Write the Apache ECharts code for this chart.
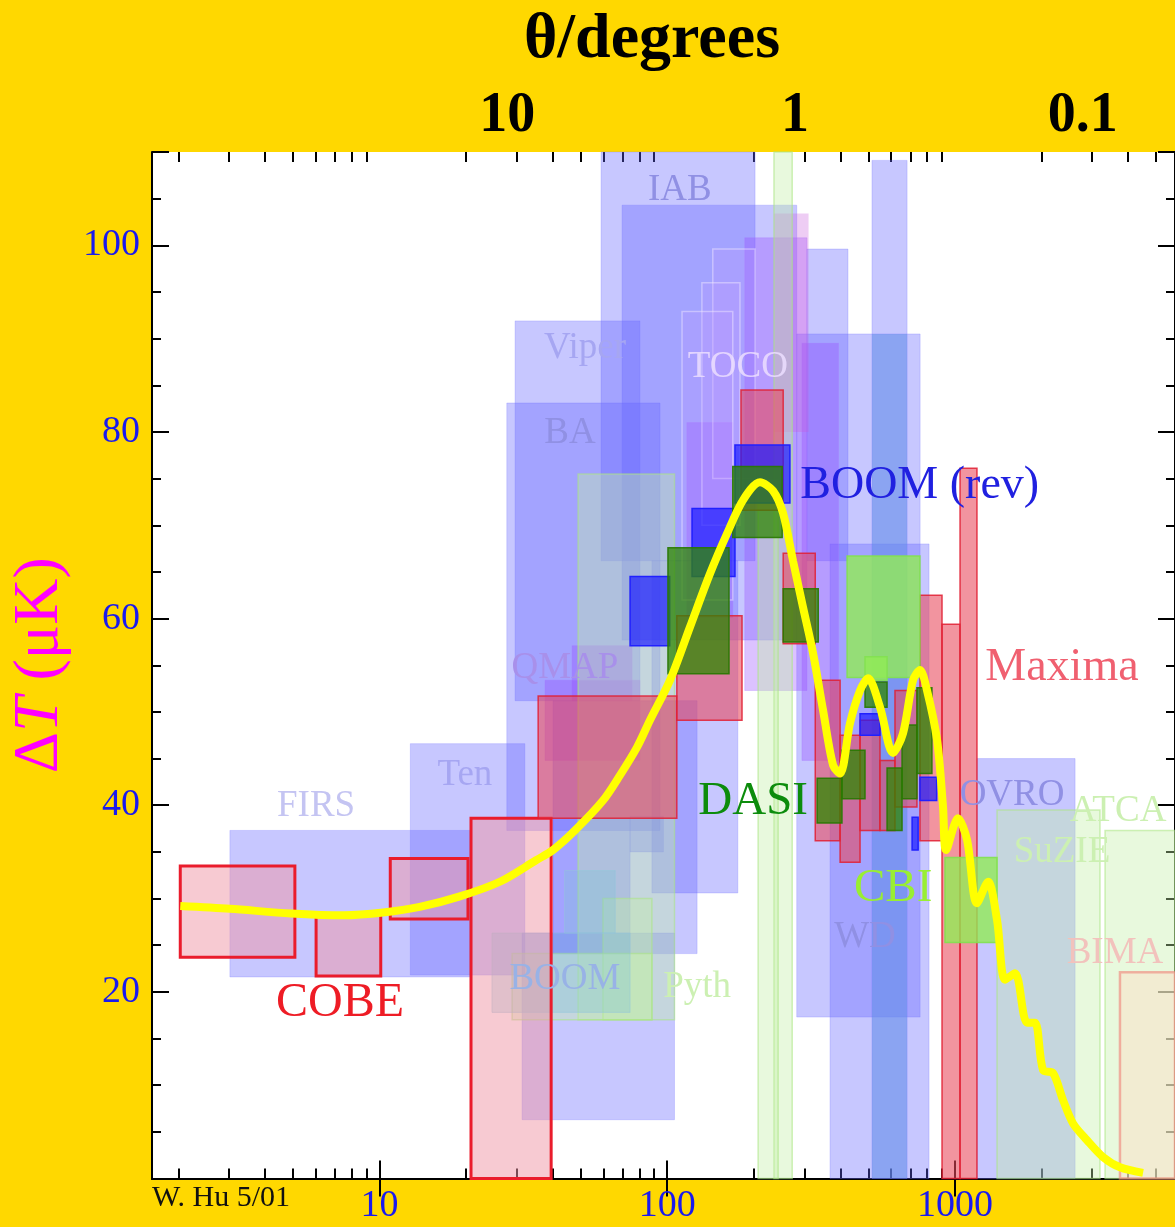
<!DOCTYPE html>
<html><head><meta charset="utf-8">
<script src="https://cdn.jsdelivr.net/npm/echarts@6/dist/echarts.min.js"></script>
<style>html,body{margin:0;padding:0;background:#ffd800}#c{width:1175px;height:1227px}</style>
</head><body><div id="c"></div>
<script>
// ---------------- data ----------------
const L_MIN = 1.619, L_MAX = 5821;        // multipole l range shown
const DT_MIN = 0, DT_MAX = 110;           // ΔT range (μK)
const THETA_PER_L = 278;                  // θ(degrees) ≈ 278 / l on the top scale
const xDecadeLabels = [10, 100, 1000];
const thetaLabels = [10, 1, 0.1];
const yLabelValues = [20, 40, 60, 80, 100];

// boxes: [l_low, l_high, ΔT_low, ΔT_high]
const cobe = [[2.03,5.08,23.7,33.5],[6.02,10.1,21.7,28.2],[10.9,20.3,27.8,34.3],[20.8,39.5,0,38.6]];
const otherExpts = [
  [3.02,20.6,21.6,37.3],[12.8,32.0,21.8,46.6],[29.6,80.4,51.2,91.9],[27.7,94.4,37.3,83.1],
  [58.9,202,66.2,115],[69.7,282,57.7,104.3],[31.3,106,6.3,26.3],[40.1,127,24.1,51.2],
  [88.5,176,30.6,66.2],[282,757,17.3,90.5],[368,813,0,68.0],[306,425,66.2,99.6],
  [515,682,0,109.1],[1193,2616,0,45.0],[40.1,74.3,24.1,38.6],[74.3,97,35.0,38.8]
];
const purpleExpts = [[186,306,52.3,100.8],[117,169,60.1,81.0],[294,394,44.8,89.5],[46.7,75.5,51.2,57.1],[37.6,80.4,44.8,53.4]];
const skBox = [[235,310,80,103.4]];
const tocoBoxes = [[144,202,75,99.6],[132,179,70,96.0],[112.6,169,62,92.9]];
const paleGreen = [[235,272,0,115],[207,243,0,74.8],[49.0,106,17.0,75.5],[59.8,88.5,17.0,30.0],[1401,3194,0,39.5],[3326,8000,0,37.3],[28.9,88.5,17.0,24.1]];
const boomOld = [[24.6,74.3,17.8,26.3],[44.0,66.0,26.3,33.0]];
const steelBox = [[515,682,0,90.5]];
const bima = [[3747,8000,0,22.1]];
const maxima = [
  [35.6,108,38.6,51.7],[108,182,49.1,60.3],[180.5,253,71.6,84.5],[253,327,57.3,67.0],
  [327,399,36.2,53.4],[399,468,33.9,47.5],[468,549,37.3,49.1],[549,619,37.3,44.8],
  [619,738,39.8,52.3],[756,902,36.2,62.5],[902,1042,0,59.4],[1042,1193,0,76.1]
];
const boomRev = [[74.3,102,57.1,64.5],[122,172,64.5,71.8],[172,267,72.4,78.6],[710,745,35.2,38.7],[756,864,40.5,43.0],[468,549,47.5,49.8]];
const dasi = [
  [100.6,164,54.1,67.6],[169,251,68.7,76.3],[253,335,57.5,63.2],[332,405,38.1,42.9],
  [405,487,40.7,45.9],[487,581,50.5,53.2],[581,655,37.3,44.0],[655,738,40.7,48.6],[738,832,43.4,52.6]
];
const cbi = [[422,756,53.7,66.7],[487,581,53.4,55.9],[924,1401,25.3,34.4]];

// theory curve
const curveL = [2.03,3.02,4.92,7.53,10.3,13.8,18.9,26.2,35.0,40.1,47.8,59.8,68.5,78.5,87.1,102.3,120.0,140.8,161.4,183.5,210.2,233.2,252.7,273.7,296.6,321.3,348.0,377.1,398.8,432.0,468.1,499.0,549.3,609.4,660.1,715.2,756.4,800.0,866.8,909.5,931.5,1025,1102,1193,1304,1401,1494,1618,1781,1898,2025,2193,2376,2574,2879,3273,3750,4508];
const curveT = [29.2,28.9,28.4,28.2,28.5,29.1,30.2,31.8,34.1,35.2,37.3,40.5,43.2,46.2,49.1,53.4,59.1,64.8,69.1,72.7,74.6,73.7,71.3,66.2,61.2,56.3,50.2,44.3,43.4,48.8,52.3,53.6,50.5,45.6,47.7,53.4,54.5,52.3,47.0,39.8,35.2,38.6,36.3,29.5,31.8,27.7,21.3,22.0,16.7,16.7,11.6,11.3,8.4,5.9,4.1,2.3,1.2,0.6];

// experiment labels: [l, ΔT, text, kind]
const labels = [
  [7.29,18.8,'COBE','cobe'],[6.02,39.9,'FIRS','firs'],[19.8,43.2,'Ten','faint'],
  [51.8,89.0,'Viper','faint'],[45.9,79.9,'BA','faint2'],[110.7,105.9,'IAB','faint2'],
  [176,86.9,'TOCO','toco'],[44.1,54.7,'QMAP','qmap'],[44.1,21.3,'BOOM','boomOld'],
  [127,20.5,'Pyth','pale'],[487,25.9,'WD','faint2'],[1580,41.1,'OVRO','faint2'],
  [3690,39.3,'ATCA','pale'],[2355,35.0,'SuZIE','pale'],[3601,24.1,'BIMA','bima'],
  [290,74.2,'BOOM (rev)','boom'],[199,40.4,'DASI','dasi'],[610,31.1,'CBI','cbi'],
  [2355,54.7,'Maxima','maxima']
];

// ---------------- styles / builders ----------------
const SERIF = '"Liberation Serif", "Times New Roman", serif';
const labelStyles = {
  cobe:   {color:'#ee1c25', size:48},
  firs:   {color:'#c4c4f2', size:37},
  faint:  {color:'#a6a6f2', size:37},
  faint2: {color:'#9090e4', size:37},
  toco:   {color:'rgba(236,222,255,0.85)', size:37},
  qmap:   {color:'#a890ea', size:37},
  boomOld:{color:'#98b2e6', size:37},
  pale:   {color:'#ccf0b2', size:37},
  bima:   {color:'#f2c2bc', size:37},
  boom:   {color:'#2020e0', size:46, align:'left'},
  dasi:   {color:'#0c8c0c', size:47},
  cbi:    {color:'#99ee33', size:47},
  maxima: {color:'#f06070', size:46}
};

function boxSeries(data, style, z) {
  return {
    type: 'custom', coordinateSystem: 'cartesian2d', xAxisIndex: 0, yAxisIndex: 0,
    z: z, silent: true, animation: false, data: data,
    encode: {x: [0, 1], y: [2, 3]},
    renderItem: function (params, api) {
      const a = api.coord([api.value(0), api.value(3)]);
      const b = api.coord([api.value(1), api.value(2)]);
      const cs = params.coordSys;
      const shape = echarts.graphic.clipRectByRect(
        {x: a[0], y: a[1], width: b[0] - a[0], height: b[1] - a[1]},
        {x: cs.x, y: cs.y, width: cs.width, height: cs.height});
      if (!shape) return;
      return {type: 'rect', shape: shape, style: style};
    }
  };
}

const lgMin = Math.log10(L_MIN), lgMax = Math.log10(L_MAX);
const decadeLg = xDecadeLabels.map(Math.log10);
const minorLg = [];
for (let e = 0; e < 4; e++) for (let k = 2; k <= 9; k++) {
  const v = Math.log10(k * Math.pow(10, e));
  if (v > lgMin && v < lgMax) minorLg.push(v);
}
const isIn = (v, arr) => arr.some(t => Math.abs(v - t) <= 1e-6 * Math.abs(t));
const tickLine = {color: '#000', width: 2};

function tickAxis(pos, values, len, showLine) {
  return {
    type: 'value', position: pos, min: lgMin, max: lgMax,
    axisLine: {show: !!showLine, lineStyle: {color: '#000', width: 2}},
    axisTick: {show: true, inside: true, length: len, customValues: values, lineStyle: tickLine},
    axisLabel: {show: false}, splitLine: {show: false}
  };
}

const chart = echarts.init(document.getElementById('c'), null, {renderer: 'canvas'});
chart.setOption({
  animation: false,
  backgroundColor: '#ffd800',
  grid: {left: 152, right: 0, top: 152, bottom: 48.5, show: true, backgroundColor: '#ffffff', borderWidth: 0, outerBoundsMode: 'none'},
  xAxis: [
    { type: 'log', logBase: 10, position: 'bottom', min: L_MIN, max: L_MAX,
      axisLine: {show: true, lineStyle: {color: '#000', width: 2}},
      axisTick: {show: false}, splitLine: {show: false}, minorTick: {show: false},
      axisLabel: {margin: 9, color: '#1a1aee', fontSize: 38, fontFamily: SERIF,
        formatter: v => isIn(v, xDecadeLabels) ? String(Math.round(v)) : ''} },
    tickAxis('bottom', decadeLg, 18, false),
    tickAxis('bottom', minorLg, 10, false),
    tickAxis('top', decadeLg, 18, true),
    tickAxis('top', minorLg, 10, false),
    { type: 'log', logBase: 10, position: 'top', inverse: true,
      min: THETA_PER_L / L_MAX, max: THETA_PER_L / L_MIN,
      axisLine: {show: false}, axisTick: {show: false}, splitLine: {show: false},
      axisLabel: {margin: 7, color: '#000', fontSize: 56, fontWeight: 'bold', fontFamily: SERIF,
        formatter: v => { const t = thetaLabels.find(t => Math.abs(v - t) <= 1e-6 * t); return t === undefined ? '' : String(t); }} }
  ],
  yAxis: [
    { type: 'value', position: 'left', min: DT_MIN, max: DT_MAX, interval: 5,
      axisLine: {show: true, lineStyle: {color: '#000', width: 2}},
      axisTick: {show: true, inside: true, length: 9, lineStyle: tickLine},
      axisLabel: {show: false}, splitLine: {show: false},
      name: '{d|Δ}{t|T}{d| (μK)}', nameLocation: 'middle', nameRotate: 90, nameGap: 80,
      nameTextStyle: {rich: {
        d: {fontSize: 64, fontFamily: SERIF, color: '#ff00ff'},
        t: {fontSize: 64, fontFamily: SERIF, fontStyle: 'italic', color: '#ff00ff'}}} },
    { type: 'value', position: 'left', min: DT_MIN, max: DT_MAX, interval: 20,
      axisLine: {show: false},
      axisTick: {show: true, inside: true, length: 17, lineStyle: tickLine},
      splitLine: {show: false},
      axisLabel: {margin: 12, color: '#1a1aee', fontSize: 38, fontFamily: SERIF,
        formatter: v => yLabelValues.indexOf(v) >= 0 ? String(v) : ''} },
    { type: 'value', position: 'right', min: DT_MIN, max: DT_MAX, interval: 5,
      axisLine: {show: true, lineStyle: {color: '#000', width: 2}},
      axisTick: {show: true, inside: true, length: 9, lineStyle: tickLine},
      axisLabel: {show: false}, splitLine: {show: false} },
    { type: 'value', position: 'right', min: DT_MIN, max: DT_MAX, interval: 20,
      axisLine: {show: false},
      axisTick: {show: true, inside: true, length: 17, lineStyle: tickLine},
      axisLabel: {show: false}, splitLine: {show: false} }
  ],
  graphic: [
    {type: 'text', x: 652, y: 40, silent: true, style: {text: 'θ/degrees', align: 'center', verticalAlign: 'middle', fill: '#000', font: 'bold 64px ' + SERIF}},
    {type: 'text', x: 152, y: 1198, silent: true, style: {text: 'W. Hu 5/01', align: 'left', verticalAlign: 'middle', fill: '#111', font: '30px ' + SERIF}}
  ],
  series: [
    boxSeries(otherExpts, {fill: 'rgba(100,100,255,0.36)', stroke: 'rgba(110,110,255,0.25)', lineWidth: 1}, 2),
    boxSeries(steelBox, {fill: 'rgba(100,165,220,0.38)'}, 3),
    boxSeries(purpleExpts, {fill: 'rgba(150,70,255,0.33)', stroke: 'rgba(170,120,255,0.3)', lineWidth: 1}, 4),
    boxSeries(skBox, {fill: 'rgba(200,90,220,0.3)'}, 5),
    boxSeries(tocoBoxes, {fill: 'rgba(190,150,255,0.22)', stroke: 'rgba(245,235,255,0.45)', lineWidth: 1.5}, 6),
    boxSeries(paleGreen, {fill: 'rgba(195,238,165,0.38)', stroke: 'rgba(170,230,130,0.55)', lineWidth: 1.5}, 7),
    boxSeries(boomOld, {fill: 'rgba(130,195,215,0.35)', stroke: 'rgba(150,200,220,0.5)', lineWidth: 1}, 8),
    boxSeries(bima, {fill: 'rgba(250,225,200,0.55)', stroke: 'rgba(240,130,120,0.6)', lineWidth: 2.5}, 9),
    boxSeries(cobe, {fill: 'rgba(240,150,165,0.5)', stroke: '#ea1c2c', lineWidth: 3}, 10),
    boxSeries(maxima, {fill: 'rgba(232,70,90,0.58)', stroke: 'rgba(225,30,50,0.85)', lineWidth: 1.5}, 11),
    boxSeries(boomRev, {fill: 'rgba(25,25,255,0.68)', stroke: '#2020ff', lineWidth: 1.5}, 12),
    boxSeries(dasi, {fill: 'rgba(45,135,0,0.75)', stroke: 'rgba(40,120,0,0.9)', lineWidth: 1.5}, 13),
    boxSeries(cbi, {fill: 'rgba(145,235,85,0.8)', stroke: 'rgba(130,225,80,0.9)', lineWidth: 1.5}, 14),
    { type: 'custom', coordinateSystem: 'cartesian2d', xAxisIndex: 0, yAxisIndex: 0, z: 15, silent: true,
      data: labels.map(d => [d[0], d[1]]),
      renderItem: function (params, api) {
        const d = labels[params.dataIndex];
        const st = labelStyles[d[3]];
        const p = api.coord([d[0], d[1]]);
        return {type: 'text', x: p[0], y: p[1],
          style: {text: d[2], fill: st.color, font: st.size + 'px ' + SERIF, align: st.align || 'center', verticalAlign: 'middle'}};
      } },
    { type: 'line', xAxisIndex: 0, yAxisIndex: 0, z: 20, silent: true,
      data: curveL.map((l, i) => [l, curveT[i]]),
      showSymbol: false, smooth: 0.3,
      lineStyle: {color: '#ffff00', width: 8} }
  ]
});
</script>
</body></html>
